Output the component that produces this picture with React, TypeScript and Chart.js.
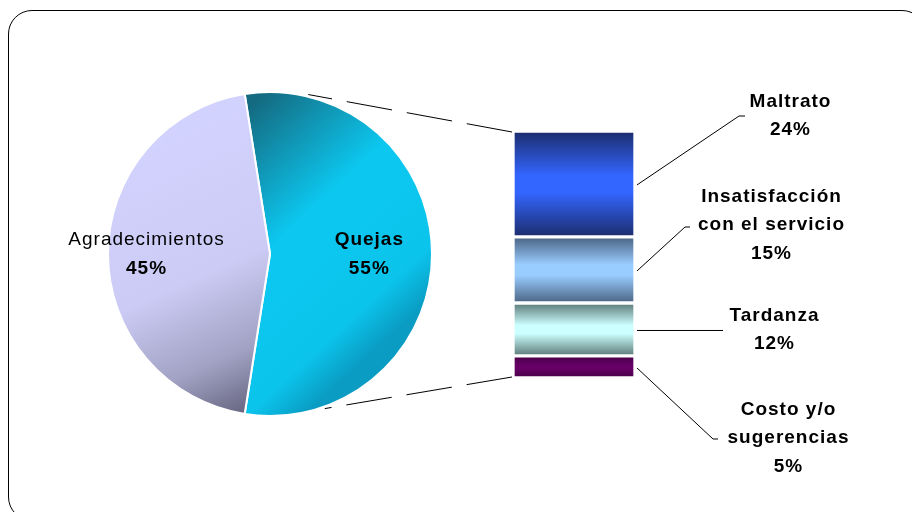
import { useEffect, useRef } from "react";
import { Chart, registerables } from "chart.js";
Chart.register(...registerables);

// ---- data ----
const pieLabels = ["Quejas", "Agradecimientos"];
const pieValues = [55, 45];
const piePercentLabels = ["55%", "45%"];

const barLabels = [["Maltrato"], ["Insatisfacción", "con el servicio"], ["Tardanza"], ["Costo y/o", "sugerencias"]];
const barValues = [24, 15, 12, 5];
const barPercentLabels = ["24%", "15%", "12%", "5%"];

// ---- styles / layout ----
const FONT = '"Liberation Sans", Arial, sans-serif';
const PIE_LEFT = 107;
const PIE_TOP = 91;
const PIE_SIZE = 326;
const pieLabelFrac = [0.61, 0.765];
const pieNameBold = [true, false];
const barEdge = ["#1c2c6c", "#4a6382", "#5a7876", "#470047"];
const barMid = ["#3366ff", "#99ccff", "#ccffff", "#660066"];
// label block centres and leader elbows for the bar segments (ey < 0: horizontal leader)
const barLabelPos = [
  { x: 790, y: 116, ex: 739, ey: 116, tx: 745 },
  { x: 771, y: 225, ex: 685, ey: 227, tx: 690 },
  { x: 774, y: 330, ex: 723, ey: -1, tx: 723 },
  { x: 788, y: 438, ex: 713, ey: 439, tx: 718 },
];

function drawBlock(ctx: CanvasRenderingContext2D, lines: { t: string; b: boolean }[], cx: number, cy: number, lh: number) {
  ctx.save();
  ctx.fillStyle = "#000";
  ctx.textAlign = "center";
  ctx.textBaseline = "middle";
  (ctx as any).letterSpacing = "1px";
  const y0 = cy - ((lines.length - 1) * lh) / 2;
  lines.forEach((l, i) => {
    ctx.font = `${l.b ? "bold " : ""}19px ${FONT}`;
    ctx.fillText(l.t, cx + 0.5, y0 + i * lh);
  });
  ctx.restore();
}

export default function App() {
  const pieRef = useRef<HTMLCanvasElement>(null);
  const barRef = useRef<HTMLCanvasElement>(null);

  useEffect(() => {
    const pieGrad = (ctx: any) => {
      const chart = ctx.chart;
      const c = chart.ctx as CanvasRenderingContext2D;
      const i = ctx.dataIndex;
      if (i === 0) {
        const g = c.createLinearGradient(250 - PIE_LEFT, 105 - PIE_TOP, 430 - PIE_LEFT, 300 - PIE_TOP);
        g.addColorStop(0, "#146a80");
        g.addColorStop(0.45, "#0cc8f0");
        g.addColorStop(0.85, "#0bc4ec");
        g.addColorStop(1, "#0a9cc2");
        return g;
      }
      const g = c.createLinearGradient(140 - PIE_LEFT, 150 - PIE_TOP, 255 - PIE_LEFT, 405 - PIE_TOP);
      g.addColorStop(0, "#d2d2fe");
      g.addColorStop(0.5, "#cbcbf5");
      g.addColorStop(0.8, "#a2a2c4");
      g.addColorStop(1, "#6a6a86");
      return g;
    };

    const pie = new Chart(pieRef.current!, {
      type: "pie",
      data: {
        labels: pieLabels,
        datasets: [
          {
            data: pieValues,
            backgroundColor: pieGrad as any,
            borderColor: "#ffffff",
            borderWidth: 2,
          },
        ],
      },
      options: {
        responsive: false,
        animation: false,
        rotation: -9,
        plugins: { legend: { display: false }, tooltip: { enabled: false } },
        layout: { padding: 0 },
      },
    });

    const starts = barValues.map((_, i) => barValues.slice(0, i).reduce((a, b) => a + b, 0));
    const total = barValues.reduce((a, b) => a + b, 0);

    const barGrad = (i: number) => (ctx: any) => {
      const chart = ctx.chart;
      if (!chart.chartArea || !chart.scales.y) return barMid[i];
      const ys = chart.scales.y;
      const y0 = ys.getPixelForValue(starts[i]);
      const y1 = ys.getPixelForValue(starts[i] + barValues[i]);
      const g = (chart.ctx as CanvasRenderingContext2D).createLinearGradient(0, y0, 0, y1);
      g.addColorStop(0, barEdge[i]);
      g.addColorStop(0.42, barMid[i]);
      g.addColorStop(0.58, barMid[i]);
      g.addColorStop(1, barEdge[i]);
      return g;
    };

    const overlayPlugin = {
      id: "overlay",
      afterDatasetsDraw(chart: any) {
        const ctx = chart.ctx as CanvasRenderingContext2D;
        const ys = chart.scales.y;
        const area = chart.chartArea;
        const arcs: any[] = pie.getDatasetMeta(0).data as any[];
        const arc: any = arcs[0];
        if (arc) {
          // dashed connectors pie -> bar
          const cx = arc.x + PIE_LEFT;
          const cy = arc.y + PIE_TOP;
          const r = arc.outerRadius + 2;
          const aTop = (13.5 * Math.PI) / 180;
          const aBot = (160.5 * Math.PI) / 180;
          const barTop = ys.getPixelForValue(0) + 1;
          const barBot = ys.getPixelForValue(total) - 1;
          ctx.save();
          ctx.strokeStyle = "#000";
          ctx.lineWidth = 1;
          ctx.setLineDash([46, 15]);
          ctx.beginPath();
          ctx.moveTo(area.left - 2, barTop);
          ctx.lineTo(cx + Math.sin(aTop) * r, cy - Math.cos(aTop) * r);
          ctx.stroke();
          ctx.beginPath();
          ctx.moveTo(area.left - 2, barBot);
          ctx.lineTo(cx + Math.sin(aBot) * r, cy - Math.cos(aBot) * r);
          ctx.stroke();
          ctx.restore();
          // pie labels
          arcs.forEach((a: any, i: number) => {
            const mid = (a.startAngle + a.endAngle) / 2;
            const rr = a.outerRadius * pieLabelFrac[i];
            const x = a.x + PIE_LEFT + Math.cos(mid) * rr;
            const y = a.y + PIE_TOP + Math.sin(mid) * rr;
            drawBlock(ctx, [{ t: pieLabels[i], b: pieNameBold[i] }, { t: piePercentLabels[i], b: true }], x, y, 29);
          });
        }
        // leader lines + labels
        barValues.forEach((v, i) => {
          const yc = ys.getPixelForValue(starts[i] + v / 2) + 1;
          const p = barLabelPos[i];
          const ey = p.ey < 0 ? yc : p.ey;
          ctx.save();
          ctx.strokeStyle = "#000";
          ctx.lineWidth = 1;
          ctx.beginPath();
          ctx.moveTo(area.right + 3, yc);
          ctx.lineTo(p.ex, ey);
          ctx.lineTo(p.tx, ey);
          ctx.stroke();
          ctx.restore();
          const lines = barLabels[i].map((t) => ({ t, b: true }));
          lines.push({ t: barPercentLabels[i], b: true });
          drawBlock(ctx, lines, p.x, p.y, 28.5);
        });
      },
    };

    const bar = new Chart(barRef.current!, {
      type: "bar",
      data: {
        labels: [""],
        datasets: barValues.map((v, i) => ({
          label: barLabels[i].join(" "),
          data: [v],
          backgroundColor: barGrad(i) as any,
          borderColor: "#ffffff",
          borderWidth: { top: 2, bottom: 2, left: 1, right: 1 },
          borderSkipped: false,
          barPercentage: 1,
          categoryPercentage: 1,
          stack: "s",
        })),
      },
      options: {
        responsive: false,
        animation: false,
        layout: { padding: { left: 514, right: 278, top: 131, bottom: 134 } },
        scales: {
          x: { stacked: true, display: false },
          y: { stacked: true, display: false, min: 0, max: total, reverse: true },
        },
        plugins: { legend: { display: false }, tooltip: { enabled: false } },
      },
      plugins: [overlayPlugin],
    });

    return () => {
      bar.destroy();
      pie.destroy();
    };
  }, []);

  return (
    <div style={{ position: "fixed", left: 0, top: 0, width: 912, height: 512, overflow: "hidden", background: "#fff" }}>
      <div
        style={{
          position: "absolute",
          left: 8,
          top: 10,
          width: 918,
          height: 511,
          border: "1.5px solid #000",
          borderRadius: 24,
          boxSizing: "border-box",
        }}
      />
      <canvas
        ref={pieRef}
        width={PIE_SIZE}
        height={PIE_SIZE}
        style={{ position: "absolute", left: PIE_LEFT, top: PIE_TOP, width: PIE_SIZE, height: PIE_SIZE }}
      />
      <canvas ref={barRef} width={912} height={512} style={{ position: "absolute", left: 0, top: 0, width: 912, height: 512 }} />
    </div>
  );
}
